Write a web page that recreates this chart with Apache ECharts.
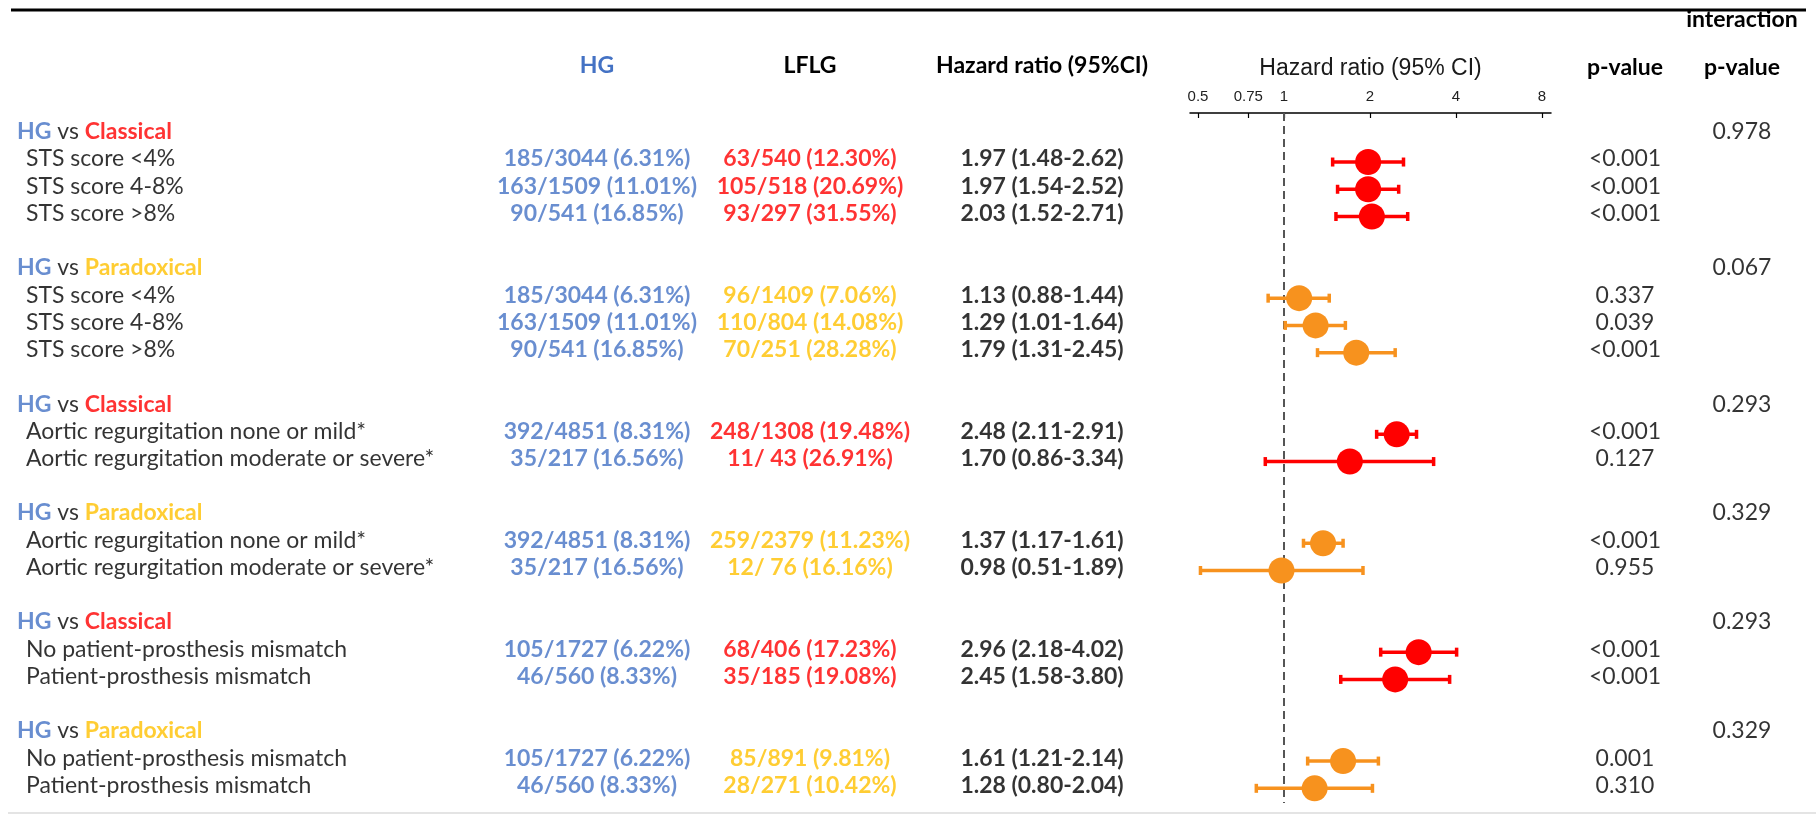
<!DOCTYPE html>
<html><head><meta charset="utf-8">
<script src="https://cdn.jsdelivr.net/npm/echarts@6/dist/echarts.min.js"></script>
<style>html,body{margin:0;padding:0;background:#fff}#c{width:1816px;height:819px}</style>
</head><body><div id="c"></div>
<script>
// ---------------- data ----------------
const groupComparators = ['Classical', 'Paradoxical', 'Classical', 'Paradoxical', 'Classical', 'Paradoxical'];
const groupSizes = [3, 3, 2, 2, 2, 2];
const interactionP = ['0.978', '0.067', '0.293', '0.329', '0.293', '0.329'];
const rowLabels = [
  'STS score <4%', 'STS score 4-8%', 'STS score >8%',
  'STS score <4%', 'STS score 4-8%', 'STS score >8%',
  'Aortic regurgitation none or mild*', 'Aortic regurgitation moderate or severe*',
  'Aortic regurgitation none or mild*', 'Aortic regurgitation moderate or severe*',
  'No patient-prosthesis mismatch', 'Patient-prosthesis mismatch',
  'No patient-prosthesis mismatch', 'Patient-prosthesis mismatch'
];
const hgEvents = [
  '185/3044 (6.31%)', '163/1509 (11.01%)', '90/541 (16.85%)',
  '185/3044 (6.31%)', '163/1509 (11.01%)', '90/541 (16.85%)',
  '392/4851 (8.31%)', '35/217 (16.56%)',
  '392/4851 (8.31%)', '35/217 (16.56%)',
  '105/1727 (6.22%)', '46/560 (8.33%)',
  '105/1727 (6.22%)', '46/560 (8.33%)'
];
const lflgEvents = [
  '63/540 (12.30%)', '105/518 (20.69%)', '93/297 (31.55%)',
  '96/1409 (7.06%)', '110/804 (14.08%)', '70/251 (28.28%)',
  '248/1308 (19.48%)', '11/ 43 (26.91%)',
  '259/2379 (11.23%)', '12/ 76 (16.16%)',
  '68/406 (17.23%)', '35/185 (19.08%)',
  '85/891 (9.81%)', '28/271 (10.42%)'
];
const hr     = [1.97, 1.97, 2.03, 1.13, 1.29, 1.79, 2.48, 1.70, 1.37, 0.98, 2.96, 2.45, 1.61, 1.28];
const ciLow  = [1.48, 1.54, 1.52, 0.88, 1.01, 1.31, 2.11, 0.86, 1.17, 0.51, 2.18, 1.58, 1.21, 0.80];
const ciHigh = [2.62, 2.52, 2.71, 1.44, 1.64, 2.45, 2.91, 3.34, 1.61, 1.89, 4.02, 3.80, 2.14, 2.04];
const pValues = ['<0.001', '<0.001', '<0.001', '0.337', '0.039', '<0.001', '<0.001', '0.127',
                 '<0.001', '0.955', '<0.001', '<0.001', '0.001', '0.310'];
const tickValues = [0.5, 0.75, 1, 2, 4, 8];

// ---------------- layout ----------------
const W = 1816, H = 819;
const ROW0 = 134.8, ROWH = 27.23;          // pixel y of row index 0, row pitch
const AXIS_Y = 113, DASH_END = 803;        // forest axis line y, bottom of plot
const X_ONE = 1284, PX_DOUBLE = 86;        // pixel of HR=1, pixels per doubling
const AX_LEFT = 1190, AX_RIGHT = 1551;     // axis line extent
const COL = { label: 17, indent: 26, hg: 597, lflg: 810, hr: 1042, p: 1625, inter: 1742 };
const TXT = { hg: '#4472C4', Classical: '#FF0000', Paradoxical: '#FFC000' };
const MARK = { Classical: '#FF0000', Paradoxical: '#F7921E' };
const FONT = 'Lato, "Noto Sans", sans-serif';
const FS = 23;
const TEXT_DY = -3;

// row indices
const rows = [], headers = [];
(function () {
  let k = 0, r = 0;
  groupSizes.forEach((n, g) => {
    headers.push({ k: k, g: g });
    for (let i = 0; i < n; i++) { rows.push({ k: k + 1 + i, g: g, i: r }); r++; }
    k += n + 2;
  });
})();

const yMinT = -4.9, yMaxT = 25;
const tTop = ROW0 + yMinT * ROWH, tHeight = (yMaxT - yMinT) * ROWH;
const yMinF = (AXIS_Y - ROW0) / ROWH, yMaxF = (DASH_END - ROW0) / ROWH;
const xMinF = Math.pow(2, (AX_LEFT - X_ONE) / PX_DOUBLE);
const xMaxF = Math.pow(2, (AX_RIGHT - X_ONE) / PX_DOUBLE);

// ---------------- table cells ----------------
const tableData = [];
function cell(x, k, text, opts) {
  tableData.push({
    value: [x, k],
    label: Object.assign({
      show: true, formatter: text, position: [0, 0], offset: [0, TEXT_DY],
      align: 'center', verticalAlign: 'middle',
      fontFamily: FONT, fontSize: FS, color: '#000', fontWeight: 'normal'
    }, opts || {})
  });
}
headers.forEach(h => {
  const cmp = groupComparators[h.g];
  cell(COL.label, h.k, '{hg|HG} {vs|vs} {cmp|' + cmp + '}', {
    align: 'left',
    rich: {
      hg: { color: TXT.hg, fontWeight: 'bold', fontFamily: FONT, fontSize: FS },
      vs: { color: '#000', fontFamily: FONT, fontSize: FS },
      cmp: { color: TXT[cmp], fontWeight: 'bold', fontFamily: FONT, fontSize: FS }
    }
  });
  cell(COL.inter, h.k, interactionP[h.g]);
});
rows.forEach(r => {
  const i = r.i, cmp = groupComparators[r.g];
  cell(COL.indent, r.k, rowLabels[i], { align: 'left' });
  cell(COL.hg, r.k, hgEvents[i], { color: TXT.hg, fontWeight: 'bold' });
  cell(COL.lflg, r.k, lflgEvents[i], { color: TXT[cmp], fontWeight: 'bold' });
  cell(COL.hr, r.k, hr[i].toFixed(2) + ' (' + ciLow[i].toFixed(2) + '-' + ciHigh[i].toFixed(2) + ')', { fontWeight: 'bold' });
  cell(COL.p, r.k, pValues[i]);
});

const forestData = rows.map(r => [hr[r.i], ciLow[r.i], ciHigh[r.i], r.k]);

function hdr(x, y, text, font, fill) {
  return { type: 'text', x: x, y: y, silent: true,
    style: { text: text, font: font, fill: fill || '#000', align: 'center', verticalAlign: 'middle',
             textAlign: 'center', textVerticalAlign: 'middle' } };
}
const BOLD = 'bold ' + FS + 'px ' + FONT;

const option = {
  animation: false,
  backgroundColor: '#fff',
  grid: [
    { left: 0, width: W, top: tTop, height: tHeight, containLabel: false },
    { left: AX_LEFT, width: AX_RIGHT - AX_LEFT, top: AXIS_Y, height: DASH_END - AXIS_Y, containLabel: false }
  ],
  xAxis: [
    { gridIndex: 0, type: 'value', min: 0, max: W, show: false },
    { gridIndex: 1, type: 'log', logBase: 2, min: xMinF, max: xMaxF, position: 'top',
      axisLine: { show: true, onZero: false, lineStyle: { color: '#000', width: 1.5 } },
      axisTick: { show: true, inside: true, length: 5, customValues: tickValues, lineStyle: { color: '#000', width: 1.2 } },
      axisLabel: { show: true, customValues: tickValues, margin: 9, fontFamily: '"Liberation Sans", Arial, sans-serif',
                   fontSize: 15, color: '#222', formatter: v => String(v) },
      splitLine: { show: false }, minorTick: { show: false } }
  ],
  yAxis: [
    { gridIndex: 0, type: 'value', inverse: true, min: yMinT, max: yMaxT, show: false },
    { gridIndex: 1, type: 'value', inverse: true, min: yMinF, max: yMaxF, show: false }
  ],
  graphic: [
    { type: 'line', silent: true, shape: { x1: 11, y1: 10, x2: 1806, y2: 10 }, style: { stroke: '#000', lineWidth: 3 } },
    { type: 'line', silent: true, shape: { x1: 8, y1: 813, x2: 1816, y2: 813 }, style: { stroke: '#e4e4e4', lineWidth: 2 } },
    hdr(COL.hg, 66, 'HG', BOLD, TXT.hg),
    hdr(COL.lflg, 66, 'LFLG', BOLD),
    hdr(COL.hr, 66, 'Hazard ratio (95%CI)', BOLD),
    hdr((AX_LEFT + AX_RIGHT) / 2, 69, 'Hazard ratio (95% CI)', '23px "Liberation Sans", Arial, sans-serif', '#1a1a1a'),
    hdr(COL.p, 68, 'p-value', BOLD),
    hdr(COL.inter, 20, 'interaction', BOLD),
    hdr(COL.inter, 68, 'p-value', BOLD)
  ],
  series: [
    { type: 'scatter', xAxisIndex: 0, yAxisIndex: 0, symbolSize: 0, clip: false, silent: true,
      emphasis: { disabled: true }, data: tableData },
    { type: 'custom', xAxisIndex: 1, yAxisIndex: 1, silent: true, clip: false, data: forestData,
      renderItem: function (params, api) {
        const k = api.value(3);
        const p = api.coord([api.value(0), k]);
        const a = api.coord([api.value(1), k]);
        const b = api.coord([api.value(2), k]);
        const col = MARK[groupComparators[rows[params.dataIndex].g]];
        const lw = 3.5, ch = 4.5, R = 13;
        return { type: 'group', children: [
          { type: 'line', shape: { x1: a[0], y1: a[1], x2: b[0], y2: b[1] }, style: { stroke: col, lineWidth: lw } },
          { type: 'line', shape: { x1: a[0], y1: a[1] - ch, x2: a[0], y2: a[1] + ch }, style: { stroke: col, lineWidth: lw } },
          { type: 'line', shape: { x1: b[0], y1: b[1] - ch, x2: b[0], y2: b[1] + ch }, style: { stroke: col, lineWidth: lw } },
          { type: 'circle', shape: { cx: p[0], cy: p[1], r: R }, style: { fill: col } }
        ] };
      },
      markLine: { silent: true, symbol: 'none', label: { show: false }, z: 1,
        lineStyle: { type: [8, 5], color: '#555', width: 2 }, data: [{ xAxis: 1 }] },
      z: 3 }
  ]
};
const chart = echarts.init(document.getElementById('c'), null, { renderer: 'canvas', width: W, height: H });
chart.setOption(option);
</script>
</body></html>
